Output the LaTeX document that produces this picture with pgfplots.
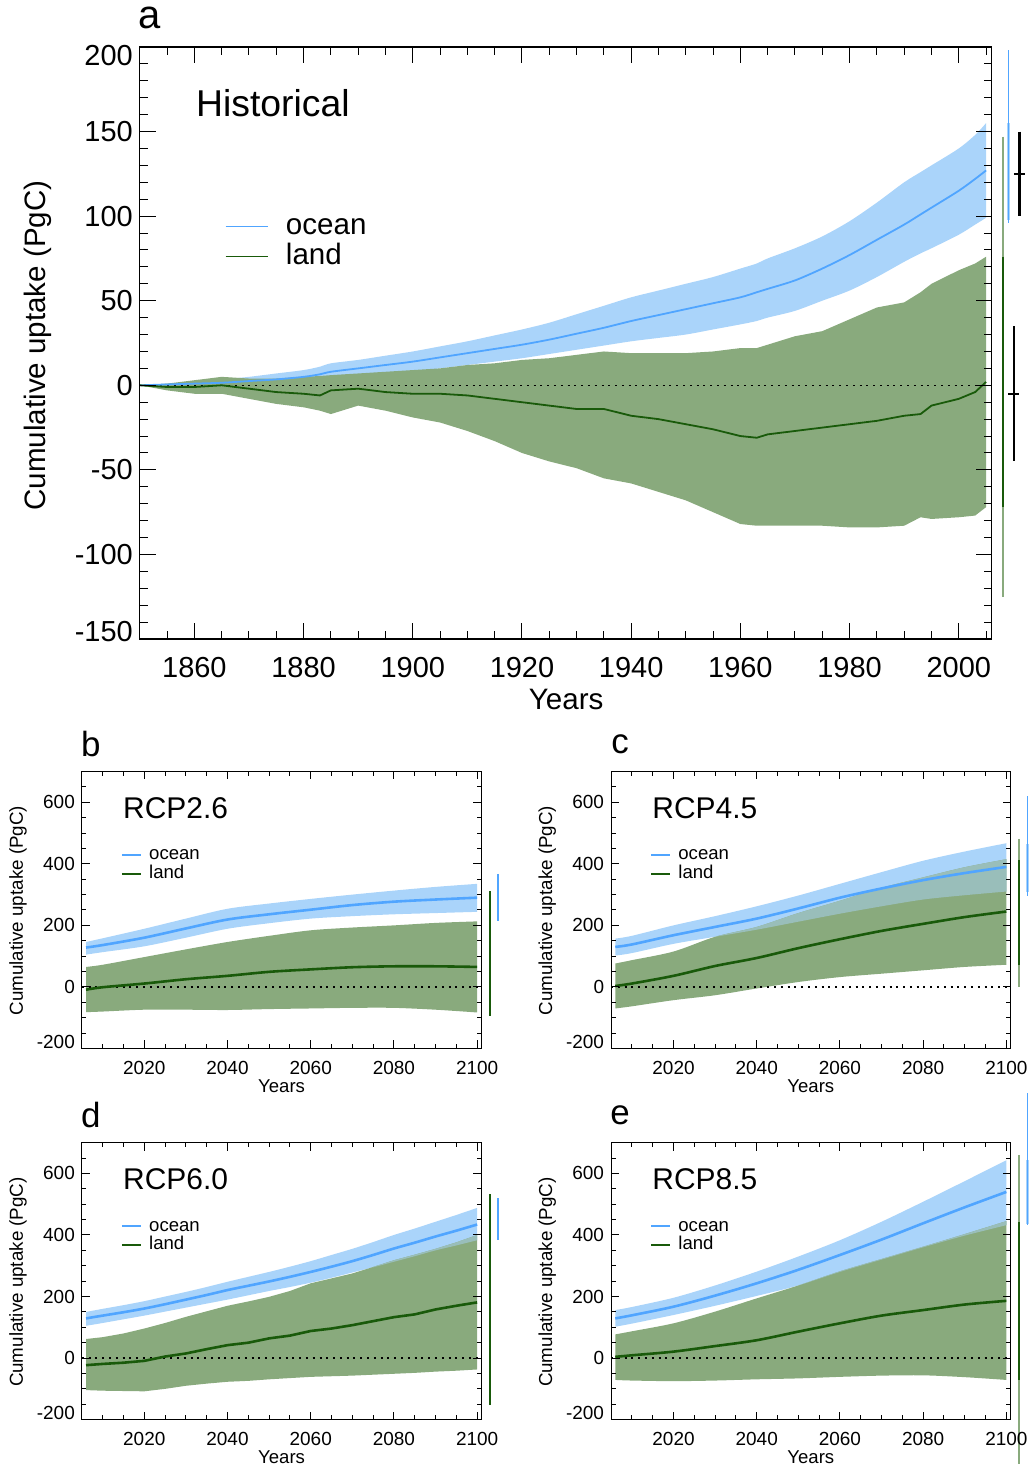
\documentclass[border=0pt]{standalone}
\usepackage{fontspec}
\setmainfont{Liberation Sans}
\usepackage{pgfplots}
\pgfplotsset{compat=1.18}
\usepackage{pgfplotstable}
\usepgfplotslibrary{fillbetween}

\definecolor{bandblue}{RGB}{170,212,250}
\definecolor{lineblue}{RGB}{80,165,255}
\definecolor{bandgreen}{RGB}{137,170,125}
\definecolor{linegreen}{RGB}{25,90,10}
\definecolor{overlapc}{RGB}{153,190,186}

\pgfplotstableread{
yr ohi omid olo lhi lmid llo
1850 0 0 0 0 0 0
1855 1 0.5 0 1 -1 -3
1860 2 1 0 3 -1 -5
1865 3.5 1.5 0 5 0 -5
1870 5 2.5 0.5 4 -2 -8
1875 7 3.5 1 4 -4 -11
1880 9 5 2 5 -5 -13
1883 11 6.5 2.5 5.5 -6 -15
1885 13 8 3 6 -3 -17
1890 15 10 5 7 -2 -12
1895 17.5 12 6.5 8 -4 -15
1900 20 14 8 9 -5 -19
1905 23 16.5 10 10 -5 -22
1910 26 19 12 12 -6 -27
1915 29.5 21.5 14 13 -8 -33
1920 33 24 16 15 -10 -40
1925 37 27 18.5 16 -12 -45
1930 42 30.5 21 18 -14 -49
1935 47 34 23.5 20 -14 -55
1940 52 38 26 19 -18 -58
1945 56 41.5 28 19 -20 -63
1950 60 45 30 19 -23 -68
1955 64 48.5 33 20 -26 -75
1960 69 52 36 22 -30 -82
1963 72 55 38 22 -31 -83
1965 75 57 40 24 -29 -83
1970 81 62 44 29 -27 -83
1975 88 69 50 32 -25 -83
1980 97 77 56 39 -23 -84
1985 108 86 64 46 -21 -84
1990 120 95 73 49 -18 -83
1993 126 101 78 55 -17 -78
1995 130 105 81 60 -12 -79
2000 140 115 89 68 -8 -78
2003 148 122 95 72 -4 -77
2005 155 127 99 76 2 -72
}\histdata

\pgfplotstableread{
yr ohi omid olo lhi lmid llo
2006 146 128 105 65 -9 -82
2010 158 136 113 72 -1 -80
2020 189 160 132 97 11 -74
2030 222 190 160 122 25 -74
2040 254 219 189 146 36 -75
2050 271 236 207 166 49 -72
2060 286 251 222 184 57 -70
2070 300 266 230 193 64 -68
2080 313 277 236 200 67 -68
2090 325 284 240 208 67 -74
2100 335 290 244 213 65 -83
}\rcpb

\pgfplotstableread{
yr ohi omid olo lhi lmid llo
2006 157 130 102 76 3 -70
2010 166 138 110 87 11 -63
2020 200 168 140 115 36 -43
2030 230 195 163 163 68 -27
2040 262 222 186 195 94 -5
2050 297 255 212 240 126 16
2060 335 290 238 280 155 32
2070 373 320 262 322 182 43
2080 410 347 284 356 205 54
2090 440 370 298 389 227 65
2100 467 390 310 415 245 72
}\rcpc

\pgfplotstableread{
yr ohi omid olo lhi lmid llo
2006 150 129 105 62 -23 -104
2010 160 138 114 68 -19 -106
2015 172 149 126 80 -15 -107
2020 185 161 138 96 -9 -108
2025 200 175 151 114 5 -100
2030 215 190 164 134 15 -90
2035 231 205 177 152 29 -83
2040 248 221 190 170 42 -77
2045 264 235 204 184 50 -74
2050 280 249 218 199 64 -69
2055 297 264 231 218 73 -65
2060 315 280 245 243 88 -61
2065 335 297 261 259 96 -59
2070 355 315 278 275 107 -57
2075 377 335 295 296 120 -54
2080 400 356 313 318 133 -51
2085 421 375 331 336 142 -48
2090 443 395 350 355 158 -44
2095 465 414 366 376 170 -41
2100 488 434 383 400 181 -37
}\rcpd

\pgfplotstableread{
yr ohi omid olo lhi lmid llo
2006 156 129 102 77 4 -71
2010 166 139 112 87 9 -73
2020 196 167 140 113 21 -75
2030 236 203 170 151 39 -73
2040 281 243 202 194 58 -69
2050 330 287 236 236 86 -66
2060 383 335 280 282 113 -61
2070 443 385 320 322 138 -57
2080 508 438 360 362 156 -56
2090 575 490 398 403 174 -62
2100 643 540 432 445 186 -71
}\rcpe

\pgfplotsset{
  common/.style={scale only axis, anchor=south west, clip=false, axis on top,
    tick align=inside, tick pos=both,
    axis line style={line width=0.6pt},
    every tick/.style={black, line width=0.5pt}},
  small/.style={common, width=200pt, height=138.7pt,
    xmin=2005, xmax=2101, ymin=-200, ymax=700,
    xtick={2020,2040,2060,2080,2100},
    xticklabels={2020,2040,2060,2080,2100},
    minor xtick={2010,2015,...,2100},
    ytick={-200,0,200,400,600},
    yticklabels={{\raisebox{3.5pt}[\height][\depth]{-200}},0,200,400,600},
    minor ytick={-150,-100,...,650},
    major tick length=4pt, minor tick length=2.2pt,
    ticklabel style={font=\fontsize{9.5}{11}\selectfont},
    xticklabel style={yshift=-3pt}},
  zeroline/.style={black, line width=0.6pt, dash pattern=on 1pt off 2.4pt},
}

\begin{document}
\begin{tikzpicture}
\begin{scope}[x=0.5pt,y=-0.5pt]
\useasboundingbox (0,0) rectangle (1031,1470);
\end{scope}

% ---------------- panel a ----------------
\begin{axis}[common, at={(70pt,-320pt)}, width=426.5pt, height=296.5pt,
  xmin=1850, xmax=2006, ymin=-150, ymax=200,
  xtick={1860,1880,...,2000},
  xticklabels={1860,1880,1900,1920,1940,1960,1980,2000},
  minor xtick={1850,1855,...,2005},
  ytick={-150,-100,...,200},
  yticklabels={{\raisebox{4pt}[\height][\depth]{-150}},-100,-50,0,50,100,150,{\raisebox{-4.5pt}[\height][\depth]{200}}},
  minor ytick={-140,-130,...,190},
  major tick length=8pt, minor tick length=4pt,
  ticklabel style={font=\fontsize{14.5}{17}\selectfont},
  xticklabel style={yshift=-5.5pt}]
\addplot[draw=none, smooth, name path=oh] table[x=yr,y=ohi]{\histdata};
\addplot[draw=none, smooth, name path=ol] table[x=yr,y=olo]{\histdata};
\addplot[draw=none, name path=lh] table[x=yr,y=lhi]{\histdata};
\addplot[draw=none, name path=ll] table[x=yr,y=llo]{\histdata};
\addplot[fill=bandblue, draw=none] fill between[of=oh and ol];
\addplot[fill=bandgreen, draw=none] fill between[of=lh and ll];
\addplot[zeroline] coordinates {(1850,0) (2006,0)};
\addplot[lineblue, line width=0.9pt, smooth] table[x=yr,y=omid]{\histdata};
\addplot[linegreen, line width=0.9pt] table[x=yr,y=lmid]{\histdata};
% ranges at the right
\addplot[bandgreen, line width=1pt] coordinates {(2008.1,147) (2008.1,-125)};
\addplot[linegreen, line width=1pt] coordinates {(2008.1,76) (2008.1,-72)};
\addplot[bandblue, line width=1.4pt] coordinates {(2009.15,155) (2009.15,98)};
\addplot[lineblue, line width=0.6pt] coordinates {(2009.15,198) (2009.15,96)};
\addplot[black, line width=1.3pt] coordinates {(2011.1,150) (2011.1,100)};
\addplot[black, line width=1pt] coordinates {(2010.1,125) (2012.1,125)};
\addplot[black, line width=1.3pt] coordinates {(2010.1,35) (2010.1,-45)};
\addplot[black, line width=1pt] coordinates {(2009.1,-5) (2011.1,-5)};
\end{axis}

% ---------------- panel b ----------------
\begin{axis}[small, at={(41pt,-525pt)}]
\addplot[draw=none, smooth, name path=oh] table[x=yr,y=ohi]{\rcpb};
\addplot[draw=none, smooth, name path=ol] table[x=yr,y=olo]{\rcpb};
\addplot[draw=none, smooth, name path=lh] table[x=yr,y=lhi]{\rcpb};
\addplot[draw=none, smooth, name path=ll] table[x=yr,y=llo]{\rcpb};
\addplot[fill=bandblue, draw=none] fill between[of=oh and ol];
\addplot[fill=bandgreen, draw=none] fill between[of=lh and ll];
\addplot[zeroline] coordinates {(2005,0) (2101,0)};
\addplot[lineblue, line width=1.3pt, smooth] table[x=yr,y=omid]{\rcpb};
\addplot[linegreen, line width=1.3pt, smooth] table[x=yr,y=lmid]{\rcpb};
\addplot[linegreen, line width=1pt] coordinates {(2103,311) (2103,-93)};
\addplot[bandblue, line width=1.4pt] coordinates {(2105,335) (2105,243)};
\addplot[lineblue, line width=0.6pt] coordinates {(2105,367) (2105,214)};
\end{axis}

% ---------------- panel c ----------------
\begin{axis}[small, at={(306pt,-525pt)}]
\addplot[draw=none, smooth, name path=oh] table[x=yr,y=ohi]{\rcpc};
\addplot[draw=none, smooth, name path=ol] table[x=yr,y=olo]{\rcpc};
\addplot[draw=none, smooth, name path=lh] table[x=yr,y=lhi]{\rcpc};
\addplot[draw=none, smooth, name path=ll] table[x=yr,y=llo]{\rcpc};
\addplot[fill=bandblue, draw=none] fill between[of=oh and ol];
\addplot[fill=bandgreen, draw=none] fill between[of=lh and ll];
\addplot[fill=overlapc, draw=none] fill between[of=lh and ol, soft clip={domain=2030:2100}];
\addplot[zeroline] coordinates {(2005,0) (2101,0)};
\addplot[lineblue, line width=1.3pt, smooth] table[x=yr,y=omid]{\rcpc};
\addplot[linegreen, line width=1.3pt, smooth] table[x=yr,y=lmid]{\rcpc};
\addplot[bandgreen, line width=1pt] coordinates {(2103,481) (2103,0)};
\addplot[linegreen, line width=1pt] coordinates {(2103,413) (2103,72)};
\addplot[bandblue, line width=1.4pt] coordinates {(2105,465) (2105,310)};
\addplot[lineblue, line width=0.6pt] coordinates {(2105,620) (2105,296)};
\end{axis}

% ---------------- panel d ----------------
\begin{axis}[small, at={(41pt,-710.85pt)}]
\addplot[draw=none, smooth, name path=oh] table[x=yr,y=ohi]{\rcpd};
\addplot[draw=none, smooth, name path=ol] table[x=yr,y=olo]{\rcpd};
\addplot[draw=none, name path=lh] table[x=yr,y=lhi]{\rcpd};
\addplot[draw=none, name path=ll] table[x=yr,y=llo]{\rcpd};
\addplot[fill=bandblue, draw=none] fill between[of=oh and ol];
\addplot[fill=bandgreen, draw=none] fill between[of=lh and ll];
\addplot[fill=overlapc, draw=none] fill between[of=lh and ol, soft clip={domain=2075:2100}];
\addplot[zeroline] coordinates {(2005,0) (2101,0)};
\addplot[lineblue, line width=1.3pt, smooth] table[x=yr,y=omid]{\rcpd};
\addplot[linegreen, line width=1.3pt] table[x=yr,y=lmid]{\rcpd};
\addplot[linegreen, line width=1pt] coordinates {(2103,532) (2103,-153)};
\addplot[bandblue, line width=1.4pt] coordinates {(2105,486) (2105,383)};
\addplot[lineblue, line width=0.6pt] coordinates {(2105,519) (2105,383)};
\end{axis}

% ---------------- panel e ----------------
\begin{axis}[small, at={(306pt,-710.85pt)}]
\addplot[draw=none, smooth, name path=oh] table[x=yr,y=ohi]{\rcpe};
\addplot[draw=none, smooth, name path=ol] table[x=yr,y=olo]{\rcpe};
\addplot[draw=none, smooth, name path=lh] table[x=yr,y=lhi]{\rcpe};
\addplot[draw=none, smooth, name path=ll] table[x=yr,y=llo]{\rcpe};
\addplot[fill=bandblue, draw=none] fill between[of=oh and ol];
\addplot[fill=bandgreen, draw=none] fill between[of=lh and ll];
\addplot[fill=overlapc, draw=none] fill between[of=lh and ol, soft clip={domain=2050:2100}];
\addplot[zeroline] coordinates {(2005,0) (2101,0)};
\addplot[lineblue, line width=1.3pt, smooth] table[x=yr,y=omid]{\rcpe};
\addplot[linegreen, line width=1.3pt, smooth] table[x=yr,y=lmid]{\rcpe};
\addplot[bandgreen, line width=1pt] coordinates {(2103,660) (2103,-345)};
\addplot[linegreen, line width=1pt] coordinates {(2103,443) (2103,-71)};
\addplot[bandblue, line width=1.4pt] coordinates {(2105,643) (2105,437)};
\addplot[lineblue, line width=0.6pt] coordinates {(2105,860) (2105,432)};
\end{axis}

% ---------------- texts (pixel grid) ----------------
\begin{scope}[x=0.5pt,y=-0.5pt]
% panel a
\node[font=\fontsize{20}{24}\selectfont] at (150,18) {a};
\node[anchor=west, inner sep=0, font=\fontsize{18.7}{22}\selectfont] at (196,103) {Historical};
\draw[lineblue, line width=0.8pt] (226,227) -- (268,227);
\draw[linegreen, line width=0.8pt] (226,257) -- (268,257);
\node[anchor=base west, inner sep=0, font=\fontsize{14.8}{17}\selectfont] at (286,234.7) {ocean};
\node[anchor=base west, inner sep=0, font=\fontsize{14.8}{17}\selectfont] at (286,264.7) {land};
\node[rotate=90, font=\fontsize{14.8}{17}\selectfont] at (38,346) {Cumulative uptake (PgC)};
\node[font=\fontsize{14.8}{17}\selectfont] at (567,700) {Years};
% panel b
\node[font=\fontsize{17.5}{21}\selectfont] at (91,745) {b};
\node[anchor=west, inner sep=0, font=\fontsize{15}{18}\selectfont] at (123,809) {RCP2.6};
\draw[lineblue, line width=0.8pt] (122,856) -- (141,856);
\draw[linegreen, line width=0.8pt] (122,875) -- (141,875);
\node[anchor=base west, inner sep=0, font=\fontsize{9.3}{11}\selectfont] at (149,860.8) {ocean};
\node[anchor=base west, inner sep=0, font=\fontsize{9.3}{11}\selectfont] at (149,879.8) {land};
\node[rotate=90, font=\fontsize{9.4}{11}\selectfont] at (18,912) {Cumulative uptake (PgC)};
\node[font=\fontsize{9.3}{11}\selectfont] at (282,1088) {Years};
% panel c
\node[font=\fontsize{17.5}{21}\selectfont] at (621,745) {c};
\node[anchor=west, inner sep=0, font=\fontsize{15}{18}\selectfont] at (653,809) {RCP4.5};
\draw[lineblue, line width=0.8pt] (652,856) -- (671,856);
\draw[linegreen, line width=0.8pt] (652,875) -- (671,875);
\node[anchor=base west, inner sep=0, font=\fontsize{9.3}{11}\selectfont] at (679,860.8) {ocean};
\node[anchor=base west, inner sep=0, font=\fontsize{9.3}{11}\selectfont] at (679,879.8) {land};
\node[rotate=90, font=\fontsize{9.4}{11}\selectfont] at (548,912) {Cumulative uptake (PgC)};
\node[font=\fontsize{9.3}{11}\selectfont] at (812,1088) {Years};
% panel d
\node[font=\fontsize{17.5}{21}\selectfont] at (91,1117) {d};
\node[anchor=west, inner sep=0, font=\fontsize{15}{18}\selectfont] at (123,1181) {RCP6.0};
\draw[lineblue, line width=0.8pt] (122,1228) -- (141,1228);
\draw[linegreen, line width=0.8pt] (122,1247) -- (141,1247);
\node[anchor=base west, inner sep=0, font=\fontsize{9.3}{11}\selectfont] at (149,1232.8) {ocean};
\node[anchor=base west, inner sep=0, font=\fontsize{9.3}{11}\selectfont] at (149,1251.8) {land};
\node[rotate=90, font=\fontsize{9.4}{11}\selectfont] at (18,1284) {Cumulative uptake (PgC)};
\node[font=\fontsize{9.3}{11}\selectfont] at (282,1459) {Years};
% panel e
\node[font=\fontsize{17.5}{21}\selectfont] at (621,1117) {e};
\node[anchor=west, inner sep=0, font=\fontsize{15}{18}\selectfont] at (653,1181) {RCP8.5};
\draw[lineblue, line width=0.8pt] (652,1228) -- (671,1228);
\draw[linegreen, line width=0.8pt] (652,1247) -- (671,1247);
\node[anchor=base west, inner sep=0, font=\fontsize{9.3}{11}\selectfont] at (679,1232.8) {ocean};
\node[anchor=base west, inner sep=0, font=\fontsize{9.3}{11}\selectfont] at (679,1251.8) {land};
\node[rotate=90, font=\fontsize{9.4}{11}\selectfont] at (548,1284) {Cumulative uptake (PgC)};
\node[font=\fontsize{9.3}{11}\selectfont] at (812,1459) {Years};
\end{scope}
\end{tikzpicture}
\end{document}
